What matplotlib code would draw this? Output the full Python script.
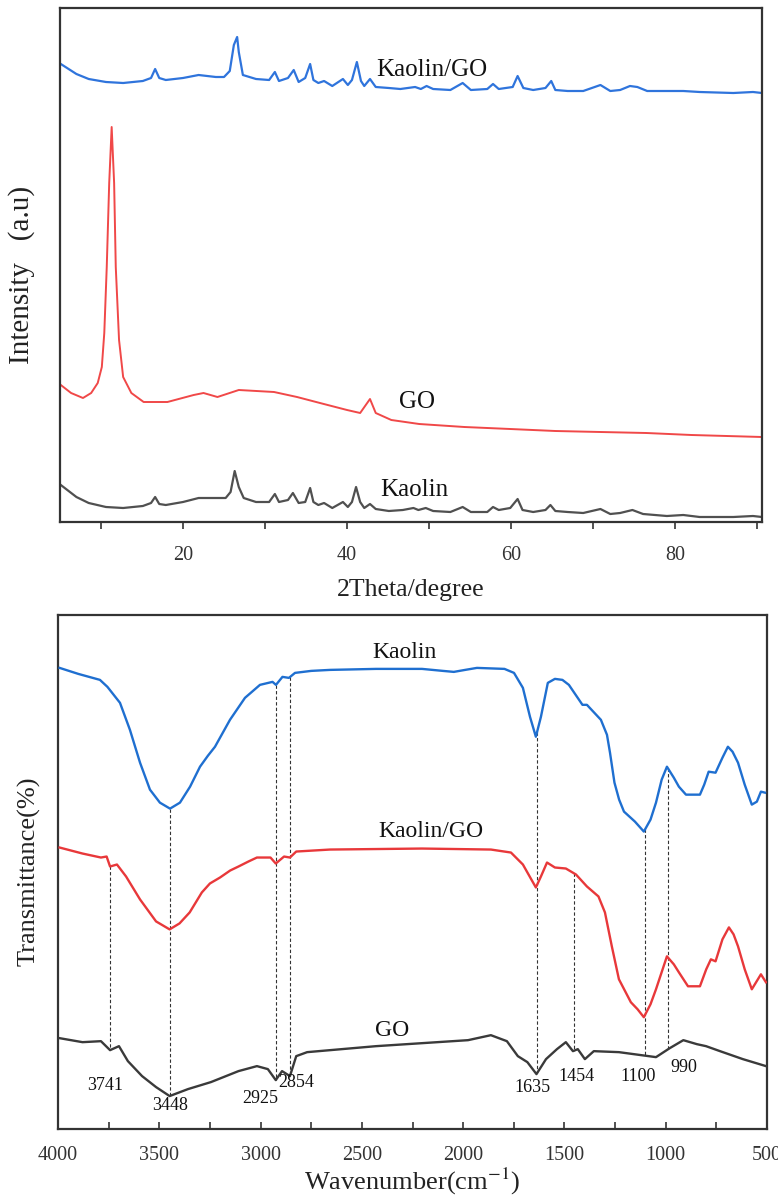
import numpy as np
import matplotlib
matplotlib.use("Agg")
import matplotlib.pyplot as plt
from matplotlib.ticker import MultipleLocator

plt.rcParams['font.family'] = ['Liberation Serif', 'DejaVu Serif']
plt.rcParams['mathtext.fontset'] = 'stix'

# ---------------- XRD data (2theta, intensity a.u.) ----------------
xrd_kgo_2t = [5.1, 7.0, 8.5, 10.6, 12.7, 15.1, 16.1, 16.6, 17.1, 17.9, 20.0, 21.9, 24.0, 25.0, 25.7,
              26.2, 26.6, 26.8, 27.3, 28.9, 30.5, 31.2, 31.7, 32.8, 33.5, 34.1, 34.9, 35.5, 35.9,
              36.5, 37.2, 38.2, 39.5, 40.1, 40.6, 41.2, 41.7, 42.1, 42.8, 43.5, 45.1, 46.5, 48.3,
              49.0, 49.7, 50.5, 52.6, 54.1, 55.1, 57.1, 57.8, 58.5, 60.2, 60.8, 61.5, 62.7, 64.2,
              64.9, 65.4, 66.9, 68.8, 70.9, 72.1, 73.3, 74.5, 75.4, 76.6, 79.0, 81.0, 83.0, 87.1,
              89.5, 90.6]
xrd_kgo_int = [458, 448, 443, 440, 439, 441, 444, 453, 444, 442, 444, 447, 445, 445, 451,
               477, 485, 470, 447, 443, 442, 450, 441, 444, 452, 440, 444, 458, 442,
               439, 441, 436, 443, 437, 442, 460, 441, 436, 443, 435, 434, 433, 435,
               433, 436, 433, 432, 439, 432, 433, 438, 433, 435, 446, 434, 432, 434,
               441, 432, 431, 431, 437, 431, 432, 436, 435, 431, 431, 431, 430, 429,
               430, 429]

xrd_go_2t = [5.1, 6.35, 7.8, 8.8, 9.6, 10.1, 10.4, 10.7, 11.0, 11.3, 11.6, 11.8, 12.2, 12.7, 13.7,
             15.2, 18.1, 21.3, 22.5, 24.2, 26.8, 31.1, 33.9, 36.7, 40.0, 41.6, 42.8, 43.5, 45.4,
             48.8, 54.3, 59.9, 65.4, 70.9, 76.5, 82.0, 90.6]
xrd_go_int = [137, 129, 124, 129, 139, 155, 189, 255, 339, 395, 339, 255, 182, 145, 129,
              120, 120, 127, 129, 125, 132, 130, 125, 119, 112, 109, 123, 109, 102,
              98, 95, 93, 91, 90, 89, 87, 85]

xrd_k_2t = [5.1, 7.0, 8.5, 10.6, 12.7, 15.1, 16.1, 16.6, 17.1, 17.9, 20.0, 21.9, 24.0, 25.2, 25.8,
            26.3, 26.8, 27.4, 28.9, 30.5, 31.2, 31.7, 32.8, 33.4, 34.1, 34.9, 35.5, 35.9, 36.5,
            37.2, 38.2, 39.5, 40.1, 40.6, 41.1, 41.6, 42.1, 42.8, 43.5, 45.1, 46.8, 48.1, 48.7,
            49.6, 50.5, 52.6, 54.1, 55.1, 57.1, 57.8, 58.5, 59.9, 60.8, 61.4, 62.7, 64.2, 64.8,
            65.4, 66.9, 68.8, 70.9, 72.1, 73.3, 74.8, 76.1, 79.0, 81.0, 83.0, 87.1, 89.5, 90.6]
xrd_k_int = [37, 25, 19, 15, 14, 16, 19, 25, 18, 17, 20, 24, 24, 24, 30,
             51, 35, 24, 20, 20, 28, 20, 22, 29, 19, 20, 34, 20, 17,
             19, 14, 20, 15, 20, 35, 20, 14, 18, 13, 11, 12, 14, 12,
             14, 11, 10, 15, 10, 10, 15, 12, 14, 23, 12, 10, 12, 17,
             11, 10, 9, 13, 8, 9, 12, 8, 6, 7, 5, 5, 6, 5]

xrd_ticks = [20, 40, 60, 80]

# ---------------- FTIR data (wavenumber, transmittance a.u.) ----------------
ir_k_wn = [3992, 3900, 3793, 3756, 3694, 3645, 3595, 3546, 3497, 3447, 3398, 3348, 3299, 3260,
           3225, 3151, 3077, 3003, 2941, 2924, 2892, 2860, 2830, 2750, 2657, 2430, 2203, 2100,
           2046, 1990, 1932, 1796, 1749, 1705, 1670, 1641, 1616, 1582, 1547, 1510, 1478, 1411,
           1389, 1320, 1290, 1275, 1253, 1230, 1206, 1152, 1108, 1075, 1048, 1020, 994, 960,
           935, 900, 831, 810, 788, 754, 720, 693, 670, 643, 610, 575, 550, 530, 510]
ir_k_t = [462, 456, 450, 443, 427, 400, 367, 340, 327, 321, 327, 343, 363, 374,
          383, 410, 432, 445, 448, 445, 453, 452, 457, 459, 460, 461, 461, 459,
          458, 460, 462, 461, 457, 442, 413, 393, 413, 447, 451, 450, 445, 425,
          425, 410, 395, 377, 347, 330, 318, 308, 298, 310, 327, 350, 363, 352,
          343, 335, 335, 345, 358, 357, 372, 383, 378, 367, 345, 325, 328, 338, 337]

ir_kgo_wn = [3992, 3879, 3788, 3760, 3743, 3709, 3664, 3595, 3516, 3449, 3400, 3350, 3290, 3250,
             3200, 3150, 3109, 3060, 3018, 2951, 2925, 2884, 2855, 2824, 2657, 2203, 1863, 1764,
             1705, 1641, 1616, 1586, 1547, 1493, 1443, 1389, 1332, 1300, 1266, 1231, 1172, 1139,
             1108, 1075, 1048, 994, 960, 935, 890, 831, 800, 777, 754, 720, 688, 665, 643, 610,
             575, 530, 505]
ir_kgo_t = [282, 276, 272, 273, 263, 265, 253, 230, 208, 200, 206, 217, 237, 246,
            252, 259, 263, 268, 272, 272, 266, 273, 272, 278, 280, 281, 280, 277,
            265, 242, 253, 267, 262, 261, 255, 243, 233, 217, 183, 150, 127, 120,
            112, 125, 140, 173, 165, 157, 143, 143, 160, 170, 168, 190, 202, 195, 183, 160,
            140, 155, 147]

ir_go_wn = [3992, 3879, 3788, 3743, 3699, 3655, 3585, 3516, 3449, 3358, 3245, 3109, 3018, 2964,
            2925, 2894, 2855, 2824, 2770, 2430, 1976, 1863, 1784, 1730, 1683, 1638, 1591, 1537,
            1493, 1458, 1434, 1399, 1355, 1231, 1048, 980, 913, 846, 801, 732, 619, 505]
ir_go_t = [91, 87, 88, 79, 83, 68, 53, 42, 33, 40, 47, 58, 63, 60,
           49, 58, 53, 73, 77, 83, 89, 94, 88, 73, 67, 55, 70, 80,
           87, 78, 80, 70, 78, 77, 72, 81, 89, 85, 83, 78, 70, 63]

peak_wn = [3741, 3448, 2925, 2854, 1635, 1454, 1100, 990]
peak_upper = ['kgo', 'k', 'k', 'k', 'k', 'kgo', 'k', 'k']
peak_label_wn = [3768, 3448, 3003, 2826, 1660, 1440, 1135, 913]
peak_label_t = [44, 24, 31, 47, 42, 53, 53, 62]

ir_ticks = [4000, 3500, 3000, 2500, 2000, 1500, 1000, 500]

# ---------------- figure ----------------
W, H = 778, 1196
fig = plt.figure(figsize=(W / 100, H / 100), dpi=100)
fig.patch.set_facecolor('white')

c_blue_x = '#2f74dc'
c_red_x = '#f04848'
c_blk_x = '#505050'
c_blue = '#1f6fd0'
c_red = '#e8383a'
c_blk = '#3a3a3a'

# ---- XRD axes ----
ax1 = fig.add_axes([60 / W, 1 - 522 / H, (762 - 60) / W, (522 - 8) / H])
ax1.plot(xrd_kgo_2t, xrd_kgo_int, color=c_blue_x, lw=1.6)
ax1.plot(xrd_go_2t, xrd_go_int, color=c_red_x, lw=1.4)
ax1.plot(xrd_k_2t, xrd_k_int, color=c_blk_x, lw=1.6)
ax1.set_xlim(5, 90.6)
ax1.set_ylim(0, 514)
ax1.set_yticks([])
ax1.set_xticks(xrd_ticks)
ax1.xaxis.set_minor_locator(MultipleLocator(10))
ax1.tick_params(axis='x', which='both', direction='out', length=5, width=1.2,
                labelsize=14.5, pad=12, colors='#333333')
for s in ax1.spines.values():
    s.set_linewidth(1.6)
    s.set_color('#333333')
ax1.set_xlabel('2Theta/degree', fontsize=18.5, color='#222222')
ax1.xaxis.set_label_coords(0.5, -(579 - 522) / 514)
ax1.set_ylabel('Intensity   (a.u)', fontsize=21, color='#222222')
ax1.yaxis.set_label_coords((35 - 60) / 702, (522 - 275) / 514)
ax1.text(43.5, 452, 'Kaolin/GO', fontsize=18, ha='left', va='center', color='#111111')
ax1.text(46.3, 120, 'GO', fontsize=18, ha='left', va='center', color='#111111')
ax1.text(44.1, 32, 'Kaolin', fontsize=18, ha='left', va='center', color='#111111')

# ---- FTIR axes ----
ax2 = fig.add_axes([58 / W, 1 - 1129 / H, (767 - 58) / W, (1129 - 615) / H])
ax2.plot(ir_k_wn, ir_k_t, color=c_blue, lw=1.7, zorder=3)
ax2.plot(ir_kgo_wn, ir_kgo_t, color=c_red, lw=1.7, zorder=3)
ax2.plot(ir_go_wn, ir_go_t, color=c_blk, lw=1.7, zorder=3)

curves = {
    'k': (ir_k_wn[::-1], ir_k_t[::-1]),
    'kgo': (ir_kgo_wn[::-1], ir_kgo_t[::-1]),
    'go': (ir_go_wn[::-1], ir_go_t[::-1]),
}
for wn, up in zip(peak_wn, peak_upper):
    top = np.interp(wn, *curves[up])
    bot = np.interp(wn, *curves['go'])
    ax2.plot([wn, wn], [top, bot], color='#333333', lw=0.8, ls=(0, (3, 2)), zorder=2)

for wn, lw_, lt in zip(peak_wn, peak_label_wn, peak_label_t):
    ax2.text(lw_, lt, str(wn), fontsize=13, ha='center', va='center', color='#111111')

ax2.set_xlim(4000, 500)
ax2.set_ylim(0, 515)
ax2.set_yticks([])
ax2.set_xticks(ir_ticks)
ax2.xaxis.set_minor_locator(MultipleLocator(250))
ax2.tick_params(axis='x', which='both', direction='in', length=5, width=1.2,
                labelsize=14.5, pad=12, colors='#333333')
for s in ax2.spines.values():
    s.set_linewidth(1.6)
    s.set_color('#333333')
ax2.set_xlabel('Wavenumber(cm$^{-1}$)', fontsize=19, color='#222222')
ax2.xaxis.set_label_coords(0.5, -(1166 - 1129) / 514)
ax2.set_ylabel('Transmittance(%)', fontsize=19, color='#222222')
ax2.yaxis.set_label_coords((41 - 58) / 709, (1130 - 872) / 514)
ax2.text(2292, 477, 'Kaolin', fontsize=17, ha='center', va='center', color='#111111')
ax2.text(2159, 298, 'Kaolin/GO', fontsize=17, ha='center', va='center', color='#111111')
ax2.text(2351, 99, 'GO', fontsize=17, ha='center', va='center', color='#111111')

fig.savefig('out.png', dpi=100, facecolor='white')
